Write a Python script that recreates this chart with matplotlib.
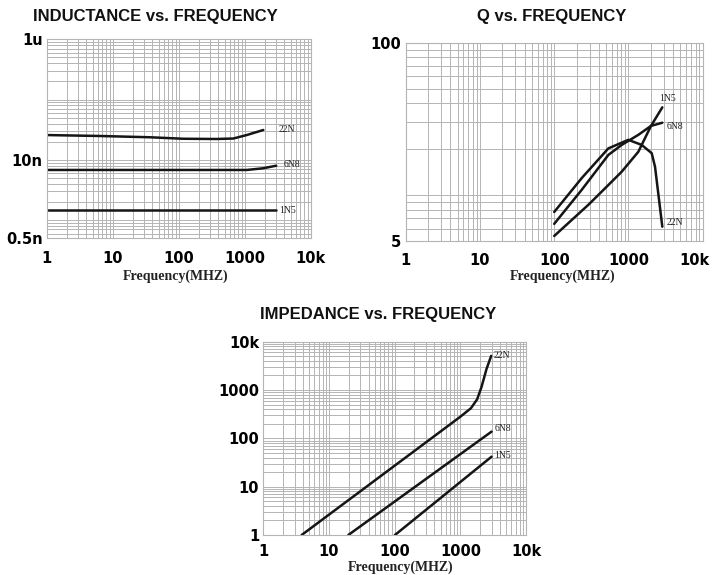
import numpy as np
import matplotlib
matplotlib.use('Agg')
import matplotlib.pyplot as plt
from matplotlib.ticker import LogLocator, NullFormatter
from matplotlib.transforms import ScaledTranslation

# ---------------- data ----------------
freq_ticks = [1, 10, 100, 1000, 10000]
freq_labels = ['1', '10', '100', '1000', '10k']

# Inductance (nH) vs frequency (MHz)
ind_22n_f = [1, 6.4, 37, 117, 377, 672, 1072, 1914]
ind_22n_v = [25.8, 24.9, 23.7, 22.4, 22.2, 22.6, 25.8, 31.3]
ind_6n8_f = [1, 100, 1072, 1914, 3000]
ind_6n8_v = [6.8, 6.8, 6.8, 7.26, 8.0]
ind_1n5_f = [1, 3000]
ind_1n5_v = [1.45, 1.45]
ind_yticks = [0.5, 10, 1000]
ind_ylabels = ['0.5n', '10n', '1u']

# Q vs frequency (MHz)
q_1n5_f = [100, 288, 436, 811, 1358, 2013, 2858]
q_1n5_v = [5.37, 8.6, 10.5, 14.2, 19.2, 28.4, 37.6]
q_6n8_f = [100, 235, 536, 811, 1358, 2013, 2858]
q_6n8_v = [6.45, 10.8, 18.3, 21.3, 24.8, 28.4, 29.8]
q_22n_f = [100, 235, 536, 995, 1507, 2056, 2280, 2858]
q_22n_v = [7.72, 12.9, 20.2, 23.0, 21.3, 18.8, 15.3, 6.18]
q_yticks = [5, 100]
q_ylabels = ['5', '100']

# Impedance (ohm) vs frequency (MHz)
z_22n_f = [3.84, 1000, 1450, 1800, 2100, 2500, 2950]
z_22n_v = [1, 280, 420, 640, 1150, 2700, 5100]
z_6n8_f = [19.7, 2994]
z_6n8_v = [1, 138]
z_1n5_f = [101, 2994]
z_1n5_v = [1, 41.8]
z_yticks = [1, 10, 100, 1000, 10000]
z_ylabels = ['1', '10', '100', '1000', '10k']

# ---------------- figure ----------------
W, H = 713, 575
fig = plt.figure(figsize=(W / 100, H / 100), dpi=100)
fig.patch.set_facecolor('white')

def axes_px(l, t, r, b):
    return fig.add_axes([l / W, 1 - b / H, (r - l) / W, (b - t) / H])

GRID = '#b4b4b4'
TICKFONT = dict(fontsize=10.5, fontweight='bold', family='DejaVu Sans')

def style(ax, ylim, yticks, ylabels, xpad=9):
    ax.set_xscale('log')
    ax.set_yscale('log')
    ax.set_xlim(1, 1e4)
    ax.set_ylim(*ylim)
    ax.set_xticks(freq_ticks, freq_labels, **TICKFONT)
    ax.set_yticks(yticks, ylabels, **TICKFONT)
    ax.xaxis.set_minor_locator(LogLocator(base=10, subs=np.arange(1, 10), numticks=100))
    ax.yaxis.set_minor_locator(LogLocator(base=10, subs=np.arange(1, 10), numticks=100))
    ax.xaxis.set_minor_formatter(NullFormatter())
    ax.yaxis.set_minor_formatter(NullFormatter())
    ax.tick_params(which='both', length=0)
    ax.tick_params(axis='x', pad=xpad)
    ax.tick_params(axis='y', pad=3)
    ax.grid(True, which='both', color=GRID, lw=0.7)
    for s in ax.spines.values():
        s.set_color(GRID)
        s.set_linewidth(0.8)
    ax.set_axisbelow(True)

LINE = dict(color='#151515', lw=1.8, solid_capstyle='round')
LBL = dict(fontsize=7, family='Liberation Serif', color='#222222',
           textcoords='offset points', va='center', ha='left')

# Inductance
ax1 = axes_px(46.7, 39.3, 310.7, 238.3)
style(ax1, (0.5, 1000), ind_yticks, ind_ylabels)
ax1.plot(ind_22n_f, ind_22n_v, **LINE)
ax1.plot(ind_6n8_f, ind_6n8_v, **LINE)
ax1.plot(ind_1n5_f, ind_1n5_v, **LINE)
ax1.annotate('22N', (ind_22n_f[-1], ind_22n_v[-1]), xytext=(11, 0), **LBL)
ax1.annotate('6N8', (ind_6n8_f[-1], ind_6n8_v[-1]), xytext=(5, 1), **LBL)
ax1.annotate('1N5', (ind_1n5_f[-1], ind_1n5_v[-1]), xytext=(2, 0), **LBL)

# Q
ax2 = axes_px(405.7, 42.7, 702.7, 240.7)
style(ax2, (5, 100), q_yticks, q_ylabels)
ax2.plot(q_1n5_f, q_1n5_v, **LINE)
ax2.plot(q_6n8_f, q_6n8_v, **LINE)
ax2.plot(q_22n_f, q_22n_v, **LINE)
ax2.annotate('1N5', (q_1n5_f[-1], q_1n5_v[-1]), xytext=(-2, 6.5), **LBL)
ax2.annotate('6N8', (q_6n8_f[-1], q_6n8_v[-1]), xytext=(3, -3), **LBL)
ax2.annotate('22N', (q_22n_f[-1], q_22n_v[-1]), xytext=(3, 3), **LBL)
# keep the last tick label inside the canvas (as in the reference)
last = ax2.get_xticklabels()[-1]
last.set_transform(last.get_transform() + ScaledTranslation(-6 / 72, 0, fig.dpi_scale_trans))

# Impedance
ax3 = axes_px(263.3, 341.7, 526, 535)
style(ax3, (1, 10000), z_yticks, z_ylabels, xpad=6.5)
ax3.plot(z_22n_f, z_22n_v, **LINE)
ax3.plot(z_6n8_f, z_6n8_v, **LINE)
ax3.plot(z_1n5_f, z_1n5_v, **LINE)
ax3.annotate('22N', (z_22n_f[-1], z_22n_v[-1]), xytext=(2, 0), **LBL)
ax3.annotate('6N8', (z_6n8_f[-1], z_6n8_v[-1]), xytext=(2, 2), **LBL)
ax3.annotate('1N5', (z_1n5_f[-1], z_1n5_v[-1]), xytext=(2, 1), **LBL)

# Titles and axis labels
TITLE = dict(fontsize=12, fontweight='bold', family='Liberation Sans',
             ha='center', va='center', color='#111111')
fig.text(155.5 / W, 1 - 16 / H, 'INDUCTANCE vs. FREQUENCY', **TITLE)
fig.text(551.5 / W, 1 - 16 / H, 'Q vs. FREQUENCY', **TITLE)
fig.text(378 / W, 1 - 315 / H, 'IMPEDANCE vs. FREQUENCY', **TITLE)

XL = dict(fontsize=10, fontweight='bold', family='Liberation Serif',
          ha='center', va='center', color='#222222')
fig.text(175.7 / W, 1 - 276 / H, 'Frequency(MHZ)', **XL)
fig.text(563 / W, 1 - 276 / H, 'Frequency(MHZ)', **XL)
fig.text(400.8 / W, 1 - 567.5 / H, 'Frequency(MHZ)', **XL)

fig.savefig('out.png', dpi=100, facecolor='white')
